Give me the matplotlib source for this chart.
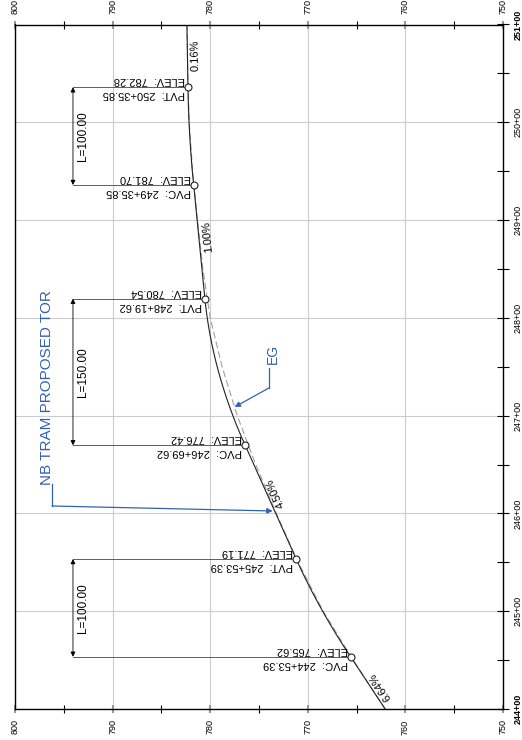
import numpy as np
import matplotlib.pyplot as plt

plt.rcParams['font.family'] = ['Liberation Sans', 'DejaVu Sans']

# vertical curves (stations in ft, elevations in ft)
pvc_sta = [24453.39, 24669.62, 24935.85]
pvc_elev = [765.62, 776.42, 781.70]
pvt_sta = [24553.39, 24819.62, 25035.85]
pvt_elev = [771.19, 780.54, 782.28]
curve_len = [100.00, 150.00, 100.00]
grades = [6.64, 4.50, 1.00, 0.16]  # tangent grades, percent
sta_begin, sta_end = 24400, 25100

# existing ground
eg_sta = [24400, 24450, 24500, 24550, 24600, 24650, 24700, 24750,
          24800, 24850, 24900, 24950, 25000, 25050, 25100]
eg_elev = [762.07, 765.35, 768.42, 770.98, 773.22, 775.34, 777.23, 778.78,
           780.00, 780.75, 781.30, 781.80, 782.15, 782.30, 782.38]

grade_lbl_sta = [24418, 24617, 24882, 25068]
station_ticks = [24400, 24500, 24600, 24700, 24800, 24900, 25000, 25100]
station_labels = ['244+00', '245+00', '246+00', '247+00',
                  '248+00', '249+00', '250+00', '251+00']
elev_ticks = [800, 790, 780, 770, 760, 750]

blue = '#3461b4'

# proposed profile
prof_s = [sta_begin]
prof_e = [pvc_elev[0] - grades[0] / 100 * (pvc_sta[0] - sta_begin)]
for i in range(3):
    g1, g2 = grades[i] / 100, grades[i + 1] / 100
    x = np.linspace(0, curve_len[i], 80)
    prof_s += list(pvc_sta[i] + x)
    prof_e += list(pvc_elev[i] + g1 * x + (g2 - g1) / (2 * curve_len[i]) * x ** 2)
prof_s.append(sta_end)
prof_e.append(pvt_elev[-1] + grades[-1] / 100 * (sta_end - pvt_sta[-1]))
prof_s = np.array(prof_s)
prof_e = np.array(prof_e)

fig = plt.figure(figsize=(5.22, 7.4), dpi=100)
ax = fig.add_axes([15 / 522, 31 / 740, 488 / 522, 684.5 / 740])
ax.set_xlim(800, 750)
ax.set_ylim(sta_begin, sta_end)

# grid and ticks
ax.set_xticks(elev_ticks)
ax.set_xticks(np.arange(750, 801, 5), minor=True)
ax.set_yticks(station_ticks)
ax.set_yticks(np.arange(24450, 25100, 100), minor=True)
ax.set_yticklabels(station_labels)
ax.grid(True, which='major', color='#cccccc', lw=0.8, zorder=0)
ax.tick_params(axis='x', which='both', top=True, bottom=True, labeltop=True,
               labelbottom=True, direction='inout', labelrotation=90,
               labelsize=6.5, pad=4.5)
ax.tick_params(axis='x', which='major', length=6, width=1.5, color='#999999')
ax.tick_params(axis='x', which='minor', length=6, width=0.8, color='k')
ax.tick_params(axis='y', which='both', left=False, labelleft=False, right=True,
               labelright=True, direction='inout', labelrotation=90,
               labelsize=6.5, pad=3.5, length=8, width=0.8)
for lbl in ax.get_yticklabels():
    lbl.set_va('center')
    if lbl.get_text() in ('244+00', '251+00'):
        lbl.set_fontweight('bold')
for sp in ax.spines.values():
    sp.set_linewidth(1.0)

# profile lines
ax.plot(eg_elev, eg_sta, color='#a0a0a0', lw=0.8, dashes=(6, 3), zorder=2)
ax.plot(prof_e, prof_s, color='#222222', lw=0.8, zorder=3)

# PVC / PVT callouts
dim_x = 794.06
pts = [('PVC', s, e) for s, e in zip(pvc_sta, pvc_elev)] + \
      [('PVT', s, e) for s, e in zip(pvt_sta, pvt_elev)]
for kind, s, e in pts:
    ax.plot([dim_x, e], [s, s], color='#444444', lw=0.6, zorder=3)
    ax.plot(e, s, 'o', ms=5, mfc='white', mec='#222222', mew=0.8, zorder=4)
    sta_txt = '%d+%05.2f' % (int(s // 100), s % 100)
    ax.annotate('ELEV:  %.2f' % e, xy=(e, s), xytext=(-2, 1.5),
                textcoords='offset points', rotation=180, ha='right',
                va='bottom', fontsize=8)
    ax.annotate('%s:  %s' % (kind, sta_txt), xy=(e, s), xytext=(-2, -1.5),
                textcoords='offset points', rotation=180, ha='right',
                va='top', fontsize=8)

for s0, s1, L in zip(pvc_sta, pvt_sta, curve_len):
    ax.annotate('', xy=(dim_x, s0), xytext=(dim_x, s1),
                arrowprops=dict(arrowstyle='<|-|>', color='k', lw=0.6,
                                mutation_scale=7, shrinkA=0, shrinkB=0))
    ax.text(793.0, (s0 + s1) / 2, 'L=%.2f' % L, rotation=90, ha='center',
            va='center', fontsize=8.5)

# grade labels
for s, g in zip(grade_lbl_sta, grades):
    e = np.interp(s, prof_s, prof_e)
    p1 = ax.transData.transform((np.interp(s - 10, prof_s, prof_e), s - 10))
    p2 = ax.transData.transform((np.interp(s + 10, prof_s, prof_e), s + 10))
    th = np.arctan2(p2[1] - p1[1], p2[0] - p1[0])
    off = 6.0
    ax.annotate('%.2f%%' % g, xy=(e, s),
                xytext=(off * np.sin(th), -off * np.cos(th)),
                textcoords='offset points', rotation=np.degrees(th),
                rotation_mode='anchor', ha='center', va='center', fontsize=8)

# blue callouts
ax.text(796.72, 24728.7, 'NB TRAM PROPOSED TOR', rotation=90, ha='center',
        va='center', fontsize=11, color=blue)
ax.plot([796.21, 796.21], [24630, 24607.6], color=blue, lw=0.9)
ax.annotate('', xy=(773.6, 24602.5), xytext=(796.21, 24607.6),
            arrowprops=dict(arrowstyle='-|>', color=blue, lw=0.9,
                            mutation_scale=8, shrinkA=0, shrinkB=0))

ax.text(773.6, 24763, 'EG', rotation=90, ha='center', va='center',
        fontsize=10, color=blue)
ax.plot([774.0, 774.0], [24748.7, 24728.2], color=blue, lw=0.9)
ax.annotate('', xy=(777.5, 24708.8), xytext=(774.0, 24728.2),
            arrowprops=dict(arrowstyle='-|>', color=blue, lw=0.9,
                            mutation_scale=8, shrinkA=0, shrinkB=0))

fig.savefig('out.png', dpi=100)
